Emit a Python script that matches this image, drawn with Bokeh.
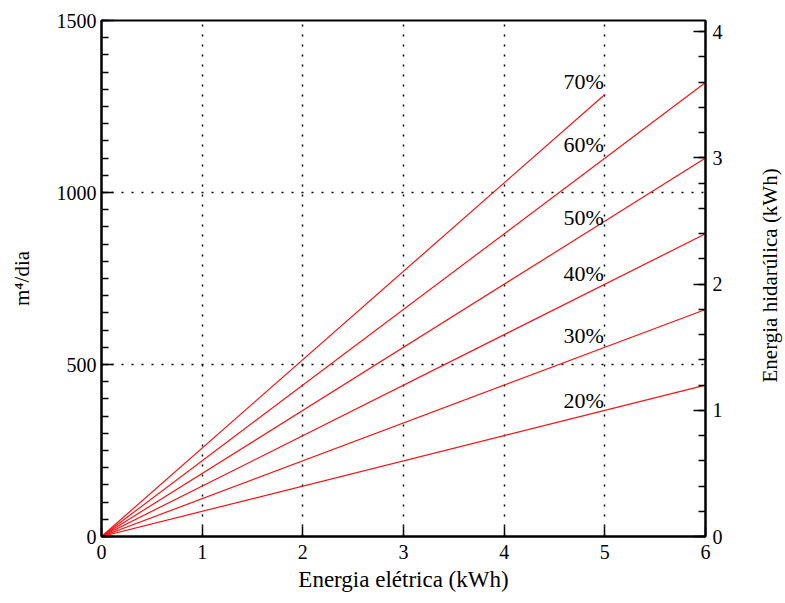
from bokeh.plotting import figure
from bokeh.models import Range1d, LinearAxis, FixedTicker, ColumnDataSource
from bokeh.layouts import row
from bokeh.core.properties import value
from bokeh.embed import file_html
from bokeh.resources import INLINE
import math

# Data
efficiencies = ["20%", "30%", "40%", "50%", "60%", "70%"]
x_end = [6, 6, 6, 6, 6, 5]
y_end = [440, 660, 880, 1100, 1320, 1285]
label_x = [4.99, 4.99, 4.99, 4.99, 4.99, 4.99]
label_y = [395, 584, 765, 927, 1140, 1323]
x_ticks = [0, 1, 2, 3, 4, 5, 6]
y_ticks = [0, 500, 1000, 1500]
y2_ticks = [0, 1, 2, 3, 4]
right_title = "Energia hidarúlica (kWh)"

FONT = "Liberation Serif"

p = figure(width=742, height=595, output_backend="svg", toolbar_location=None,
           x_range=Range1d(0, 6), y_range=Range1d(0, 1500),
           min_border_left=101, min_border_right=37, min_border_top=20, min_border_bottom=59)
p.extra_y_ranges = {"hyd": Range1d(0, 1500 * 1000 * 9.81 / 3.6e6)}

p.outline_line_color = "black"
p.outline_line_width = 2
p.background_fill_color = "white"
p.border_fill_color = "white"

# Grid
for g in (p.xgrid, p.ygrid):
    g.grid_line_color = "black"
    g.grid_line_dash = "2 8"
    g.grid_line_width = 1.5

# Lines
for xe, ye in zip(x_end, y_end):
    p.line([0, xe], [0, ye], line_color="#ff1010", line_width=1.2)

src = ColumnDataSource(dict(x=label_x, y=label_y, t=efficiencies))
p.text(x="x", y="y", text="t", source=src, text_align="right", text_baseline="middle",
       text_font=value(FONT), text_font_size="22px", text_color="black")

# Axes
xa = p.xaxis[0]
xa.ticker = FixedTicker(ticks=x_ticks)
xa.axis_label = "Energia elétrica (kWh)"
ya = p.yaxis[0]
ya.ticker = FixedTicker(ticks=y_ticks, minor_ticks=list(range(0, 1501, 50)))
ya.axis_label = "m⁴/dia"

ra = LinearAxis(y_range_name="hyd")
ra.ticker = FixedTicker(ticks=y2_ticks, minor_ticks=[i * 0.2 for i in range(0, 21)])
p.add_layout(ra, "right")

for a in (xa, ya, ra):
    a.axis_line_color = "black"
    a.axis_line_width = 2
    a.major_tick_line_color = "black"
    a.major_tick_line_width = 1.5
    a.minor_tick_line_color = "black"
    a.minor_tick_line_width = 1.5
    a.major_tick_out = 0
    a.minor_tick_out = 0
    a.major_tick_in = 12
    a.minor_tick_in = 7
    a.major_label_text_font = FONT
    a.major_label_text_font_size = "20px"
    a.major_label_text_color = "black"
    a.axis_label_text_font = FONT
    a.axis_label_text_font_size = "21px"
    a.axis_label_text_font_style = "normal"
    a.axis_label_text_color = "black"

xa.axis_label_text_font_size = "23px"
xa.major_tick_in = 10
xa.minor_tick_line_color = None
xa.major_label_standoff = 8
xa.axis_label_standoff = 5
ya.major_label_standoff = 5
ya.axis_label_standoff = 20
ra.major_label_standoff = 7

# Side strip carrying the right-hand axis title (reads bottom to top)
p2 = figure(width=42, height=595, output_backend="svg", toolbar_location=None,
            x_range=Range1d(0, 1), y_range=Range1d(0, 1500),
            min_border_left=0, min_border_right=0, min_border_top=20, min_border_bottom=59)
p2.axis.visible = False
p2.grid.visible = False
p2.outline_line_color = None
p2.background_fill_color = "white"
p2.border_fill_color = "white"
p2.text(x=[0.66], y=[759], text=[right_title], angle=math.pi / 2,
        text_align="center", text_baseline="middle",
        text_font=value(FONT), text_font_size="21px", text_color="black")

layout = row(p, p2, spacing=0)
open("out.html", "w").write(file_html(layout, INLINE))
